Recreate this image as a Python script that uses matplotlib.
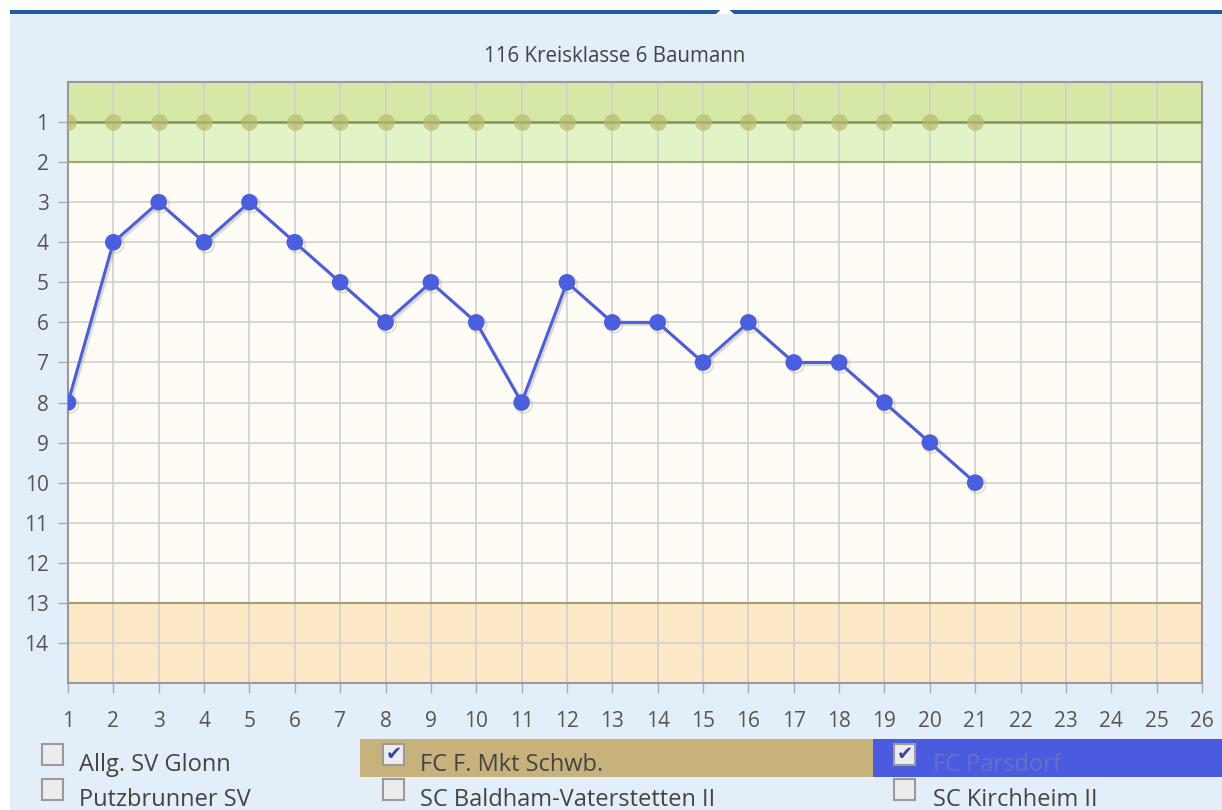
#!/usr/bin/env python3
import matplotlib
matplotlib.use("Agg")
import matplotlib.pyplot as plt
import matplotlib.patheffects as pe
from matplotlib.patches import Rectangle, Polygon

plt.rcParams['font.family'] = ['Open Sans', 'DejaVu Sans']

# Data
title = "116 Kreisklasse 6 Baumann"
spieltage = list(range(1, 22))
parsdorf = [8, 4, 3, 4, 3, 4, 5, 6, 5, 6, 8, 5, 6, 6, 7, 6, 7, 7, 8, 9, 10]
schwb = [1] * 21
x_ticks = list(range(1, 27))
y_ticks = list(range(1, 15))

teams = ["Allg. SV Glonn", "FC F. Mkt Schwb.", "FC Parsdorf",
         "Putzbrunner SV", "SC Baldham-Vaterstetten II", "SC Kirchheim II"]
checked = [False, True, True, False, False, False]
team_bg = [None, "#c8b27c", "#4a5be0", None, None, None]
team_fg = ["#444444", "#444444", "#6472c4", "#444444", "#444444", "#444444"]

W, H = 1222, 810
fig = plt.figure(figsize=(W / 100, H / 100), dpi=100)
fig.patch.set_facecolor("white")

def fx(px):
    return px / W

def fy(py):
    return 1 - py / H

# panel background + top bar
fig.add_artist(Rectangle((fx(10), 0), 1, fy(13), transform=fig.transFigure,
                         facecolor="#e4eef9", edgecolor="none", zorder=0))
fig.add_artist(Rectangle((fx(10), fy(14)), 1, 4 / H, transform=fig.transFigure,
                         facecolor="#1d5d9e", edgecolor="none", zorder=1))
fig.add_artist(Polygon([(fx(716), fy(14)), (fx(725), fy(6)), (fx(734), fy(14))],
                       closed=True, transform=fig.transFigure,
                       facecolor="white", edgecolor="none", zorder=2))

fig.text(0.503, fy(57), title, ha="center", va="center", fontsize=14.8, color="#444444")

ax = fig.add_axes([fx(68), fy(683), fx(1202) - fx(68), fy(82) - fy(683)])
ax.set_xlim(1, 26)
ax.set_ylim(15, 0)
ax.set_facecolor("#fffcf5")

# zones
ax.axhspan(0, 1, facecolor="#d5e8a6", edgecolor="none", zorder=0)
ax.axhspan(1, 2, facecolor="#e2f3c5", edgecolor="none", zorder=0)
ax.axhspan(13, 15, facecolor="#fde8c6", edgecolor="none", zorder=0)
ax.axhline(2, color="#9aab72", lw=1.5, zorder=2)
ax.axhline(13, color="#a89b7d", lw=1.5, zorder=2)

ax.set_xticks(x_ticks)
ax.set_yticks(y_ticks)
ax.grid(True, color="#d0d0d0", lw=1.2, zorder=1)
ax.set_axisbelow(True)

ax.tick_params(axis="both", colors="#aaaaaa", labelcolor="#555555",
               labelsize=15, length=7, width=1)
ax.tick_params(axis="x", pad=13)
ax.tick_params(axis="y", pad=7)
for s in ax.spines.values():
    s.set_color("#999999")
    s.set_linewidth(1.5)

# FC F. Mkt Schwb. (constant first place)
ax.axhline(1, color="#84965a", lw=1.8, zorder=3)
ax.plot(spieltage, schwb, "o", color="#b7bb6a", alpha=0.7, ms=12,
        mec="none", zorder=4)

# FC Parsdorf
ax.plot(spieltage, parsdorf, "-o", color="#4a5fe0", lw=2.2, ms=12, mec="none",
        zorder=5,
        path_effects=[pe.SimpleLineShadow(offset=(1.5, -1.5), shadow_color="#888888",
                                          alpha=0.3), pe.Normal()])

# legend with checkboxes
box_x = [42, 383, 894]
text_x = [79, 420, 933]
rows = [762, 797]
bg_spans = {1: (360, 873), 2: (873, 1222)}
for i, name in enumerate(teams):
    r, c = divmod(i, 3)
    cy = rows[r]
    if team_bg[i] is not None:
        x0, x1 = bg_spans[i]
        fig.add_artist(Rectangle((fx(x0), fy(cy + 15)), fx(x1) - fx(x0), 38 / H,
                                 transform=fig.transFigure, facecolor=team_bg[i],
                                 edgecolor="none", zorder=1))
    bx = box_x[c]
    fig.add_artist(Rectangle((fx(bx), fy(cy + 3)), 21 / W, 21 / H,
                             transform=fig.transFigure, facecolor="#ececec",
                             edgecolor="#9a9a9a", lw=1.5, zorder=2))
    if checked[i]:
        fig.text(fx(bx + 11), fy(cy - 7), "\u2714", ha="center", va="center",
                 fontsize=14, color="#3346a8", family=["DejaVu Sans"], zorder=3)
    fig.text(fx(text_x[c]), fy(cy + 3), name, ha="left", va="center",
             fontsize=17, color=team_fg[i], zorder=3)

fig.savefig("out.png", dpi=100, facecolor=fig.get_facecolor())
